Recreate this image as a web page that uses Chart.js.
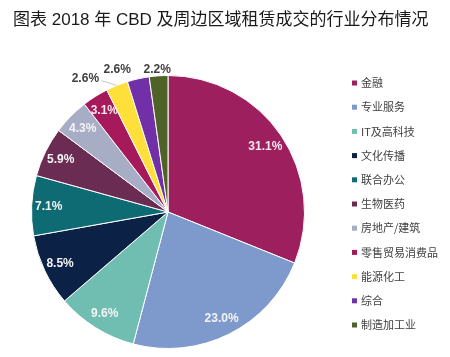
<!DOCTYPE html>
<html><head><meta charset="utf-8">
<script src="https://cdn.jsdelivr.net/npm/chart.js@4"></script>
<style>
html,body{margin:0;padding:0;background:#fff;}
#wrap{position:relative;width:450px;height:357px;overflow:hidden;}
#title{position:absolute;left:13px;top:5px;font:17px "Liberation Sans","Noto Sans CJK SC",sans-serif;color:#1a1a1a;white-space:nowrap;}
canvas{position:absolute;left:0;top:0;}
</style></head><body>
<div id="wrap"><canvas id="c" width="450" height="357"></canvas><div id="title">图表 2018 年 CBD 及周边区域租赁成交的行业分布情况</div></div>
<script>
// ---- data ----
const categories = ['金融', '专业服务', 'IT及高科技', '文化传播', '联合办公', '生物医药', '房地产/建筑', '零售贸易消费品', '能源化工', '综合', '制造加工业'];
const shares = [31.1, 23.0, 9.6, 8.5, 7.1, 5.9, 4.3, 3.1, 2.6, 2.6, 2.2];
const valueLabels = ['31.1%', '23.0%', '9.6%', '8.5%', '7.1%', '5.9%', '4.3%', '3.1%', '2.6%', '2.6%', '2.2%'];

// ---- styles ----
const sliceColors = ['#9e1f5e', '#7e9acd', '#70bdb1', '#0c2146', '#0e6b73', '#6a2c52', '#a7adc5', '#a6195b', '#ffe03a', '#7230a8', '#4f6328'];
const labelRadius = [0.86, 0.875, 0.875, 0.875, 0.875, 0.875, 0.875, 0.875, 1.15, 1.108, 1.047];
const labelAngleShift = [0, 0, 0, 0, 0, 0, 0, 0, -9.8, -7, -0.4];
const labelColors = ['#f6e6ee', '#f4f4f4', '#f4f4f4', '#f4f4f4', '#f4f4f4', '#f4f4f4', '#f4f4f4', '#f6e6ee', '#404040', '#404040', '#404040'];
const leaderLine = [false, false, false, false, false, false, false, false, true, false, false];

const sliceLabels = {
  id: 'sliceLabels',
  afterDatasetsDraw(chart) {
    const ctx = chart.ctx;
    const meta = chart.getDatasetMeta(0);
    ctx.save();
    ctx.font = 'bold 12px "Liberation Sans", Arial, sans-serif';
    ctx.textAlign = 'center';
    ctx.textBaseline = 'middle';
    meta.data.forEach((arc, i) => {
      const p = arc.getProps(['x', 'y', 'startAngle', 'endAngle', 'outerRadius'], true);
      const mid = (p.startAngle + p.endAngle) / 2 + labelAngleShift[i] * Math.PI / 180;
      const r = p.outerRadius * labelRadius[i];
      const lx = p.x + Math.cos(mid) * r;
      const ly = p.y + Math.sin(mid) * r;
      if (leaderLine[i]) {
        const am = (p.startAngle + p.endAngle) / 2;
        const ex = p.x + Math.cos(am) * p.outerRadius;
        const ey = p.y + Math.sin(am) * p.outerRadius;
        ctx.strokeStyle = '#c8c8c8';
        ctx.lineWidth = 1;
        ctx.beginPath();
        ctx.moveTo(lx + 16, ly + 2);
        ctx.lineTo(ex, ey);
        ctx.stroke();
      }
      ctx.fillStyle = labelColors[i];
      ctx.fillText(valueLabels[i], lx, ly);
    });
    ctx.restore();
  }
};

const sideLegend = {
  id: 'sideLegend',
  afterDraw(chart) {
    const ctx = chart.ctx;
    const labels = chart.data.labels;
    const colors = chart.data.datasets[0].backgroundColor;
    ctx.save();
    ctx.font = '11px "Noto Sans CJK SC", sans-serif';
    ctx.textAlign = 'left';
    ctx.textBaseline = 'middle';
    const x0 = 352, y0 = 83, step = 24.2;
    labels.forEach((lab, i) => {
      const y = y0 + i * step;
      ctx.fillStyle = colors[i];
      ctx.fillRect(x0, y - 2.5, 5, 5);
      ctx.fillStyle = '#404040';
      ctx.fillText(lab, x0 + 9, y);
    });
    ctx.restore();
  }
};

new Chart(document.getElementById('c'), {
  type: 'pie',
  data: {
    labels: categories,
    datasets: [{
      data: shares,
      backgroundColor: sliceColors,
      borderColor: '#ffffff',
      borderWidth: 1
    }]
  },
  options: {
    responsive: false,
    animation: false,
    events: [],
    layout: { padding: { left: 31, right: 145, top: 75, bottom: 8 } },
    plugins: {
      legend: { display: false },
      tooltip: { enabled: false },
      title: { display: false }
    }
  },
  plugins: [sliceLabels, sideLegend]
});
</script>
</body></html>
